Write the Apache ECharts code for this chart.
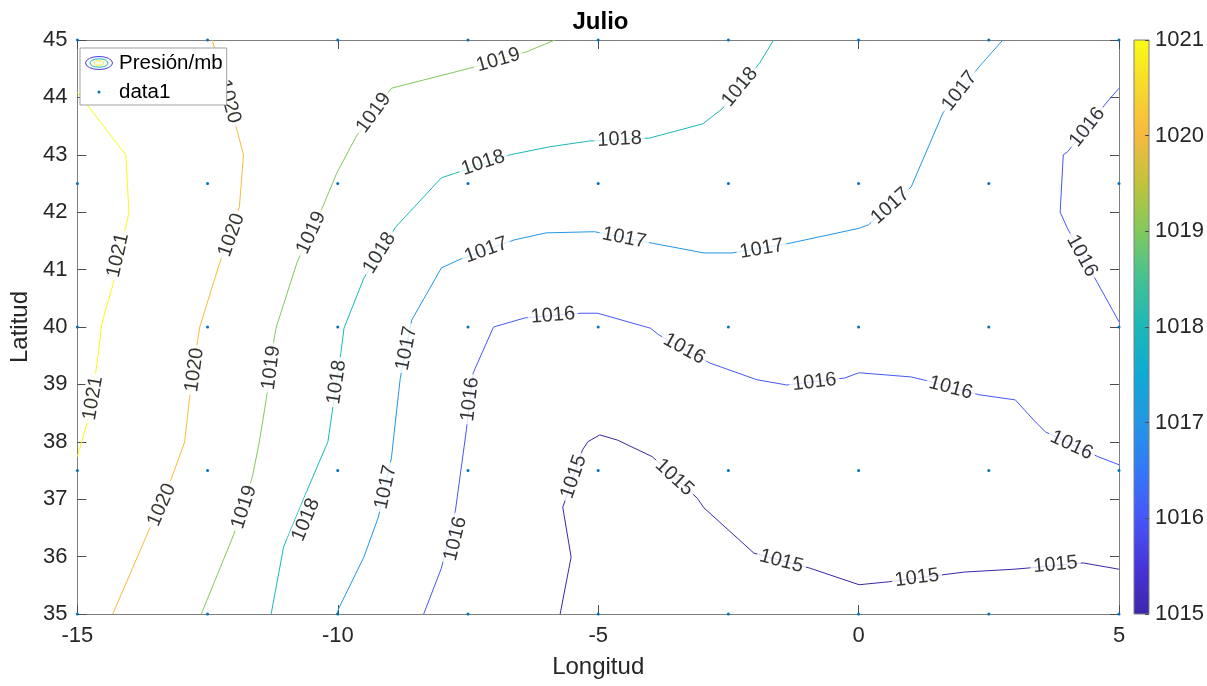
<!DOCTYPE html>
<html>
<head>
<meta charset="utf-8">
<script src="https://cdn.jsdelivr.net/npm/echarts@6/dist/echarts.min.js"></script>
<style>
  html, body { margin: 0; padding: 0; background: #fff; }
  #chart { width: 1207px; height: 686px; }
</style>
</head>
<body>
<div id="chart"></div>
<script>
// Sampling grid (data1 markers)
const gridLon = [-15, -12.5, -10, -7.5, -5, -2.5, 0, 2.5, 5];
const gridLat = [35, 37.5, 40, 42.5, 45];

// Axis ticks
const lonTicks = [-15, -10, -5, 0, 5];
const latTicks = [35, 36, 37, 38, 39, 40, 41, 42, 43, 44, 45];
const levels = [1015, 1016, 1017, 1018, 1019, 1020, 1021];

// Isobar paths [lon, lat]
const c1021 = [[-15, 44.09], [-14.07, 43.00], [-14.01, 42.00], [-14.07, 41.74], [-14.32, 40.73], [-14.53, 40.07], [-14.62, 39.37], [-14.81, 38.35], [-15, 37.74]];
const c1020 = [[-12.41, 45], [-11.95, 43.48], [-11.81, 43.00], [-11.89, 42.09], [-12.27, 41.11], [-12.65, 40.00], [-12.69, 39.77], [-12.85, 38.73], [-12.94, 38.00], [-13.19, 37.37], [-13.65, 36.41], [-14.32, 35]];
const c1019 = [[-5.83, 45], [-6.39, 44.79], [-7.46, 44.51], [-8.97, 44.16], [-9.64, 43.33], [-10.02, 42.68], [-10.30, 42.07], [-10.78, 41.13], [-11.18, 40.00], [-11.22, 39.81], [-11.37, 38.76], [-11.51, 37.98], [-11.64, 37.39], [-12.00, 36.38], [-12.62, 35]];
const c1018 = [[-1.63, 45], [-1.90, 44.60], [-2.62, 43.80], [-2.99, 43.54], [-4.02, 43.29], [-5.17, 43.24], [-5.93, 43.14], [-6.69, 43.00], [-7.74, 42.68], [-8.01, 42.60], [-8.89, 41.74], [-9.50, 40.85], [-9.88, 39.98], [-9.94, 39.55], [-10.11, 38.50], [-10.19, 38.00], [-10.60, 37.13], [-11.04, 36.17], [-11.28, 35]];
const c1017 = [[2.77, 45], [2.31, 44.53], [1.62, 43.73], [1.01, 42.44], [0.19, 41.78], [0.01, 41.72], [-1.32, 41.46], [-2.43, 41.29], [-2.97, 41.29], [-3.96, 41.46], [-5.07, 41.66], [-6.00, 41.64], [-6.60, 41.52], [-7.65, 41.18], [-8.01, 41.03], [-8.58, 40.12], [-8.80, 39.11], [-8.89, 38.38], [-8.97, 37.72], [-9.22, 36.69], [-9.50, 35.99], [-9.98, 35.10], [-10.02, 35]];
const c1016 = [[5, 37.60], [4.60, 37.74], [3.59, 38.17], [3.36, 38.38], [3.01, 38.73], [2.31, 38.82], [1.24, 39.08], [1.01, 39.13], [0.05, 39.20], [0, 39.20], [-0.27, 39.11], [-1.38, 38.99], [-1.95, 39.08], [-2.85, 39.37], [-3.83, 39.86], [-4.00, 39.98], [-5.01, 40.24], [-5.33, 40.24], [-6.40, 40.16], [-7.01, 40.00], [-7.40, 39.20], [-7.53, 38.21], [-7.74, 36.81], [-8.01, 35.80], [-8.35, 35]];
const c1016e = [[5, 44.16], [4.77, 43.92], [4.01, 43.05], [3.93, 43.00], [3.87, 42.00], [4.01, 41.72], [4.58, 40.78], [5, 40.09]];
const c1015 = [[5, 35.78], [4.31, 35.89], [3.24, 35.80], [2.98, 35.78], [2.02, 35.73], [0.57, 35.56], [0.01, 35.51], [-0.94, 35.80], [-2.01, 36.06], [-2.97, 36.85], [-3.10, 37.02], [-3.96, 37.74], [-4.63, 38.03], [-4.97, 38.12], [-5.20, 38.00], [-5.30, 37.86], [-5.68, 36.86], [-5.52, 35.99], [-5.73, 35]];

// Inline label anchors on each isobar [lon, lat]
const t1021 = [[-14.22, 41.25], [-14.70, 38.76]];
const t1020 = [[-12.09, 43.93], [-12.04, 41.60], [-12.75, 39.25], [-13.38, 36.90]];
const t1019 = [[-6.92, 44.65], [-9.31, 43.73], [-10.51, 41.64], [-11.28, 39.29], [-11.80, 36.86]];
const t1018 = [[-2.28, 44.18], [-4.59, 43.27], [-7.21, 42.86], [-9.20, 41.29], [-10.02, 39.04], [-10.61, 36.64]];
const t1017 = [[1.94, 44.11], [0.61, 42.11], [-1.86, 41.36], [-4.50, 41.55], [-7.15, 41.34], [-8.68, 39.63], [-9.08, 37.21]];
const t1016 = [[4.09, 37.94], [1.77, 38.94], [-0.85, 39.04], [-3.35, 39.62], [-5.87, 40.20], [-7.46, 38.74], [-7.74, 36.31]];
const t1016e = [[4.39, 43.48], [4.29, 41.24]];
const t1015 = [[3.78, 35.86], [1.12, 35.63], [-1.48, 35.92], [-3.54, 37.38], [-5.47, 37.39]];

const isobars = [
  { level: 1021, path: c1021, labels: t1021 },
  { level: 1020, path: c1020, labels: t1020 },
  { level: 1019, path: c1019, labels: t1019 },
  { level: 1018, path: c1018, labels: t1018 },
  { level: 1017, path: c1017, labels: t1017 },
  { level: 1016, path: c1016, labels: t1016 },
  { level: 1016, path: c1016e, labels: t1016e },
  { level: 1015, path: c1015, labels: t1015 }
];

// parula colour map
const parula = [
  [0.00, '#3e26a8'], [0.08, '#4634d8'], [0.1667, '#4656f7'], [0.25, '#3478f8'],
  [0.3333, '#2396e6'], [0.4167, '#0eaad4'], [0.5, '#1ab8b8'], [0.5833, '#44c193'],
  [0.6667, '#80ca5b'], [0.75, '#c2c23b'], [0.8333, '#f6ba3e'], [0.9167, '#f8d82c'],
  [1.00, '#f9fb15']
];
const cMin = levels[0], cMax = levels[levels.length - 1];
function hex2rgb(h) { return [1, 3, 5].map(i => parseInt(h.substr(i, 2), 16)); }
function parulaAt(v) {
  const t = Math.max(0, Math.min(1, (v - cMin) / (cMax - cMin)));
  for (let i = 1; i < parula.length; i++) {
    if (t <= parula[i][0]) {
      const [t0, h0] = parula[i - 1], [t1, h1] = parula[i];
      const f = (t - t0) / (t1 - t0);
      const a = hex2rgb(h0), b = hex2rgb(h1);
      return 'rgb(' + a.map((x, k) => Math.round(x + (b[k] - x) * f)).join(',') + ')';
    }
  }
  return parula[parula.length - 1][1];
}

const FONT = '"Liberation Sans", Arial, Helvetica, sans-serif';
const AXIS_COLOR = '#7f7f7f';
const TICK_COLOR = '#4d4d4d';
const TEXT_COLOR = '#262626';
const plain = v => String(v);

function svgIcon(body) {
  return 'image://data:image/svg+xml;charset=utf-8,' + encodeURIComponent(
    '<svg xmlns="http://www.w3.org/2000/svg" width="30" height="16" viewBox="0 0 30 16">' + body + '</svg>');
}
const contourIcon = svgIcon(
  '<ellipse cx="15" cy="8" rx="13.5" ry="6.5" fill="none" stroke="' + parulaAt(1015.6) + '" stroke-width="1"/>' +
  '<ellipse cx="15" cy="8" rx="9" ry="4.2" fill="none" stroke="' + parulaAt(1018) + '" stroke-width="1"/>' +
  '<ellipse cx="15" cy="8" rx="4.8" ry="2.2" fill="none" stroke="' + parulaAt(1020.7) + '" stroke-width="1"/>');
const dotIcon = svgIcon('<circle cx="15" cy="8" r="1.5" fill="#0072bd"/>');

const chart = echarts.init(document.getElementById('chart'));

const lineSeries = isobars.map(c => ({
  type: 'line',
  name: 'Presión/mb',
  data: c.path,
  showSymbol: false,
  symbol: 'none',
  silent: true,
  z: 2,
  lineStyle: { width: 1, color: parulaAt(c.level) },
  itemStyle: { color: parulaAt(c.level) }
}));

const gridPoints = [];
gridLat.forEach(la => gridLon.forEach(lo => gridPoints.push([lo, la])));

// Each label follows the direction of the nearest isobar segment, kept upright
function buildLabels(withAngles) {
  const out = [];
  isobars.forEach(c => {
    const px = withAngles ? c.path.map(p => chart.convertToPixel({ gridIndex: 0 }, p)) : null;
    c.labels.forEach(pt => {
      let rot = 0;
      if (withAngles) {
        const q = chart.convertToPixel({ gridIndex: 0 }, pt);
        let best = Infinity, ang = 0;
        for (let i = 0; i < px.length - 1; i++) {
          const a = px[i], b = px[i + 1];
          const dx = b[0] - a[0], dy = b[1] - a[1];
          const L2 = dx * dx + dy * dy;
          if (!L2) continue;
          let s = ((q[0] - a[0]) * dx + (q[1] - a[1]) * dy) / L2;
          s = Math.max(0, Math.min(1, s));
          const ex = a[0] + s * dx - q[0], ey = a[1] + s * dy - q[1];
          const d = ex * ex + ey * ey;
          if (d < best) { best = d; ang = Math.atan2(-dy, dx) * 180 / Math.PI; }
        }
        if (ang > 90) ang -= 180;
        if (ang <= -90) ang += 180;
        rot = ang;
      }
      out.push({ value: [pt[0], pt[1], c.level], label: { rotate: rot } });
    });
  });
  return out;
}

const frameAxis = {
  axisLine: { show: true, onZero: false, lineStyle: { color: AXIS_COLOR, width: 1 } },
  axisTick: { show: true, inside: true, length: 9, lineStyle: { color: TICK_COLOR } },
  splitLine: { show: false }
};

const option = {
  animation: false,
  backgroundColor: '#fff',
  textStyle: { fontFamily: FONT },
  title: {
    text: 'Julio',
    left: 595.5,
    textAlign: 'center',
    top: 5,
    textStyle: { fontFamily: FONT, fontSize: 24, fontWeight: 'bold', color: '#000' }
  },
  legend: {
    left: 80,
    top: 48,
    orient: 'vertical',
    selectedMode: false,
    backgroundColor: '#fff',
    borderColor: '#a0a0a0',
    borderWidth: 1,
    borderRadius: 0,
    padding: [2, 4, 0, 4],
    itemGap: 3,
    itemWidth: 30,
    itemHeight: 16,
    z: 10,
    textStyle: { fontFamily: FONT, fontSize: 20.5, color: '#000', lineHeight: 26 },
    data: [
      { name: 'Presión/mb', icon: contourIcon },
      { name: 'data1', icon: dotIcon }
    ]
  },
  grid: [
    { left: 72, right: 88, top: 40, bottom: 72, containLabel: false },
    { left: 1134, width: 15, top: 40, bottom: 72, containLabel: false }
  ],
  xAxis: [
    Object.assign({
      type: 'value', gridIndex: 0, min: lonTicks[0], max: lonTicks[lonTicks.length - 1], interval: 5,
      position: 'bottom',
      name: 'Longitud', nameLocation: 'middle', nameGap: 41,
      nameTextStyle: { fontFamily: FONT, fontSize: 24, color: TEXT_COLOR },
      axisLabel: { fontFamily: FONT, fontSize: 22, color: TEXT_COLOR, margin: 11, formatter: plain }
    }, frameAxis),
    Object.assign({
      type: 'value', gridIndex: 0, min: lonTicks[0], max: lonTicks[lonTicks.length - 1], interval: 5,
      position: 'top',
      axisLabel: { show: false }
    }, frameAxis),
    { type: 'value', gridIndex: 1, min: 0, max: 1, show: false }
  ],
  yAxis: [
    Object.assign({
      type: 'value', gridIndex: 0, min: latTicks[0], max: latTicks[latTicks.length - 1], interval: 1,
      position: 'left',
      name: 'Latitud', nameLocation: 'middle', nameGap: 33, nameRotate: 90,
      nameTextStyle: { fontFamily: FONT, fontSize: 24, color: TEXT_COLOR },
      axisLabel: { fontFamily: FONT, fontSize: 22, color: TEXT_COLOR, margin: 10, formatter: plain }
    }, frameAxis),
    Object.assign({
      type: 'value', gridIndex: 0, min: latTicks[0], max: latTicks[latTicks.length - 1], interval: 1,
      position: 'right',
      axisLabel: { show: false }
    }, frameAxis),
    {
      type: 'value', gridIndex: 1, min: cMin, max: cMax, interval: 1,
      position: 'right',
      axisLine: { show: false, onZero: false },
      axisTick: { show: true, inside: true, length: 4, lineStyle: { color: TICK_COLOR } },
      axisLabel: { fontFamily: FONT, fontSize: 22, color: TEXT_COLOR, margin: 6, formatter: plain },
      splitLine: { show: false },
      z: 5
    }
  ],
  series: lineSeries.concat([
    {
      type: 'scatter',
      name: 'data1',
      data: gridPoints,
      symbol: 'circle',
      symbolSize: 3,
      clip: false,
      silent: true,
      z: 4,
      itemStyle: { color: '#0072bd', opacity: 1 }
    },
    {
      id: 'lbl',
      type: 'scatter',
      name: 'etiquetas',
      data: buildLabels(false),
      symbolSize: 0,
      silent: true,
      z: 3,
      label: {
        show: true,
        position: 'inside',
        formatter: p => String(p.value[2]),
        fontFamily: FONT,
        fontSize: 20,
        color: '#000',
        backgroundColor: '#fff',
        padding: [0, 3]
      }
    },
    {
      type: 'custom',
      name: 'colorbar',
      xAxisIndex: 2,
      yAxisIndex: 2,
      silent: true,
      z: 2,
      data: [[0, cMin, 1, cMax]],
      renderItem: (params, api) => {
        const p0 = api.coord([api.value(0), api.value(1)]);
        const p1 = api.coord([api.value(2), api.value(3)]);
        return {
          type: 'rect',
          shape: { x: p0[0], y: p1[1], width: p1[0] - p0[0], height: p0[1] - p1[1] },
          style: {
            fill: new echarts.graphic.LinearGradient(0, 1, 0, 0,
              parula.map(s => ({ offset: s[0], color: s[1] }))),
            stroke: AXIS_COLOR,
            lineWidth: 1
          }
        };
      }
    }
  ])
};

chart.setOption(option);
chart.setOption({ series: [{ id: 'lbl', data: buildLabels(true) }] });
</script>
</body>
</html>
